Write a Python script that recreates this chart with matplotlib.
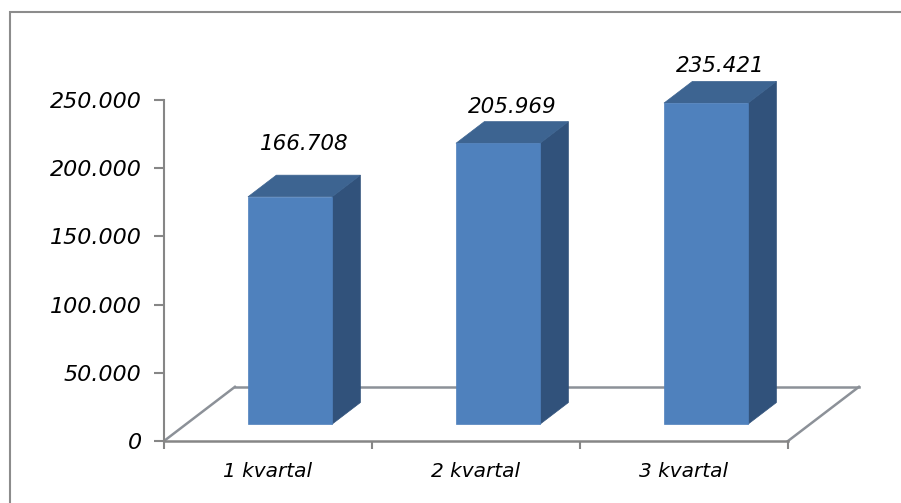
import matplotlib.pyplot as plt
from matplotlib.patches import Polygon, Rectangle
from matplotlib.lines import Line2D
from matplotlib.ticker import FuncFormatter

categories = ["1 kvartal", "2 kvartal", "3 kvartal"]
values = [166708, 205969, 235421]
yticks = [0, 50000, 100000, 150000, 200000, 250000]

W, H, DPI = 901, 503, 100
fig = plt.figure(figsize=(W / DPI, H / DPI), dpi=DPI)

# outer chart border (cropped on the right / bottom like the original)
fig.patches.append(Rectangle((10 / W, -0.1), 1.2, (H - 12) / H + 0.1,
                             transform=fig.transFigure, fill=False,
                             edgecolor="#8c8c8c", linewidth=1.5))

# axes = front plane of the 3d plot
ax = fig.add_axes([164 / W, 62 / H, 624 / W, 341 / H])
ax.set_xlim(-0.5, len(categories) - 0.5)
ax.set_ylim(0, 250000)

# floor depth in data units
depth_x = 0.341
depth_y = 39700
d0, d1 = 0.31, 0.71       # bar front / back depth
bar_w = 0.404

front_c = "#4f81bd"
top_c = "#3d6491"
side_c = "#31527b"
floor_c = "#8c9198"

x0, x1 = -0.5, len(categories) - 0.5
floor = [([x0, x0 + depth_x], [0, depth_y]),
         ([x0 + depth_x, x1 + depth_x], [depth_y, depth_y]),
         ([x1, x1 + depth_x], [0, depth_y])]
for xs, ys in floor:
    ax.add_line(Line2D(xs, ys, color=floor_c, linewidth=1.8, clip_on=False, zorder=1))

label_lift = [31, 15, 15]
for i, v in enumerate(values):
    fx = i + d0 * depth_x
    fy = d0 * depth_y
    bx = (d1 - d0) * depth_x
    by = (d1 - d0) * depth_y
    l, r = fx - bar_w / 2, fx + bar_w / 2
    front = [(l, fy), (r, fy), (r, fy + v), (l, fy + v)]
    top = [(l, fy + v), (r, fy + v), (r + bx, fy + v + by), (l + bx, fy + v + by)]
    side = [(r, fy), (r + bx, fy + by), (r + bx, fy + v + by), (r, fy + v)]
    for pts, c in ((side, side_c), (top, top_c), (front, front_c)):
        ax.add_patch(Polygon(pts, closed=True, facecolor=c, edgecolor=c,
                             linewidth=0.5, clip_on=False, zorder=3))
    ax.annotate(f"{v / 1000:.3f}", (fx + bx / 2, fy + v + by),
                xytext=(0, label_lift[i]), textcoords="offset pixels",
                ha="center", va="center", fontsize=15.5, style="italic",
                annotation_clip=False, zorder=4)

for s in ("top", "right"):
    ax.spines[s].set_visible(False)
ax.spines["left"].set_color("#868686")
ax.spines["bottom"].set_color("#868686")
ax.spines["left"].set_linewidth(1.5)
ax.spines["bottom"].set_linewidth(1.8)
ax.spines["bottom"].set_zorder(2)

ax.set_yticks(yticks)
ax.yaxis.set_major_formatter(FuncFormatter(lambda v, p: "0" if v == 0 else f"{v / 1000:.3f}"))
ax.tick_params(axis="y", length=7, width=1.5, color="#868686", pad=9, labelsize=16)
for t in ax.get_yticklabels():
    t.set_style("italic")

ax.set_xticks(range(len(categories)))
ax.set_xticklabels(categories, style="italic", fontsize=14.5)
ax.tick_params(axis="x", which="major", length=0, pad=15)
ax.set_xticks([-0.5, 0.5, 1.5, 2.5], minor=True)
ax.tick_params(axis="x", which="minor", length=6, width=1.5, color="#868686")

fig.savefig("out.png", dpi=DPI)
